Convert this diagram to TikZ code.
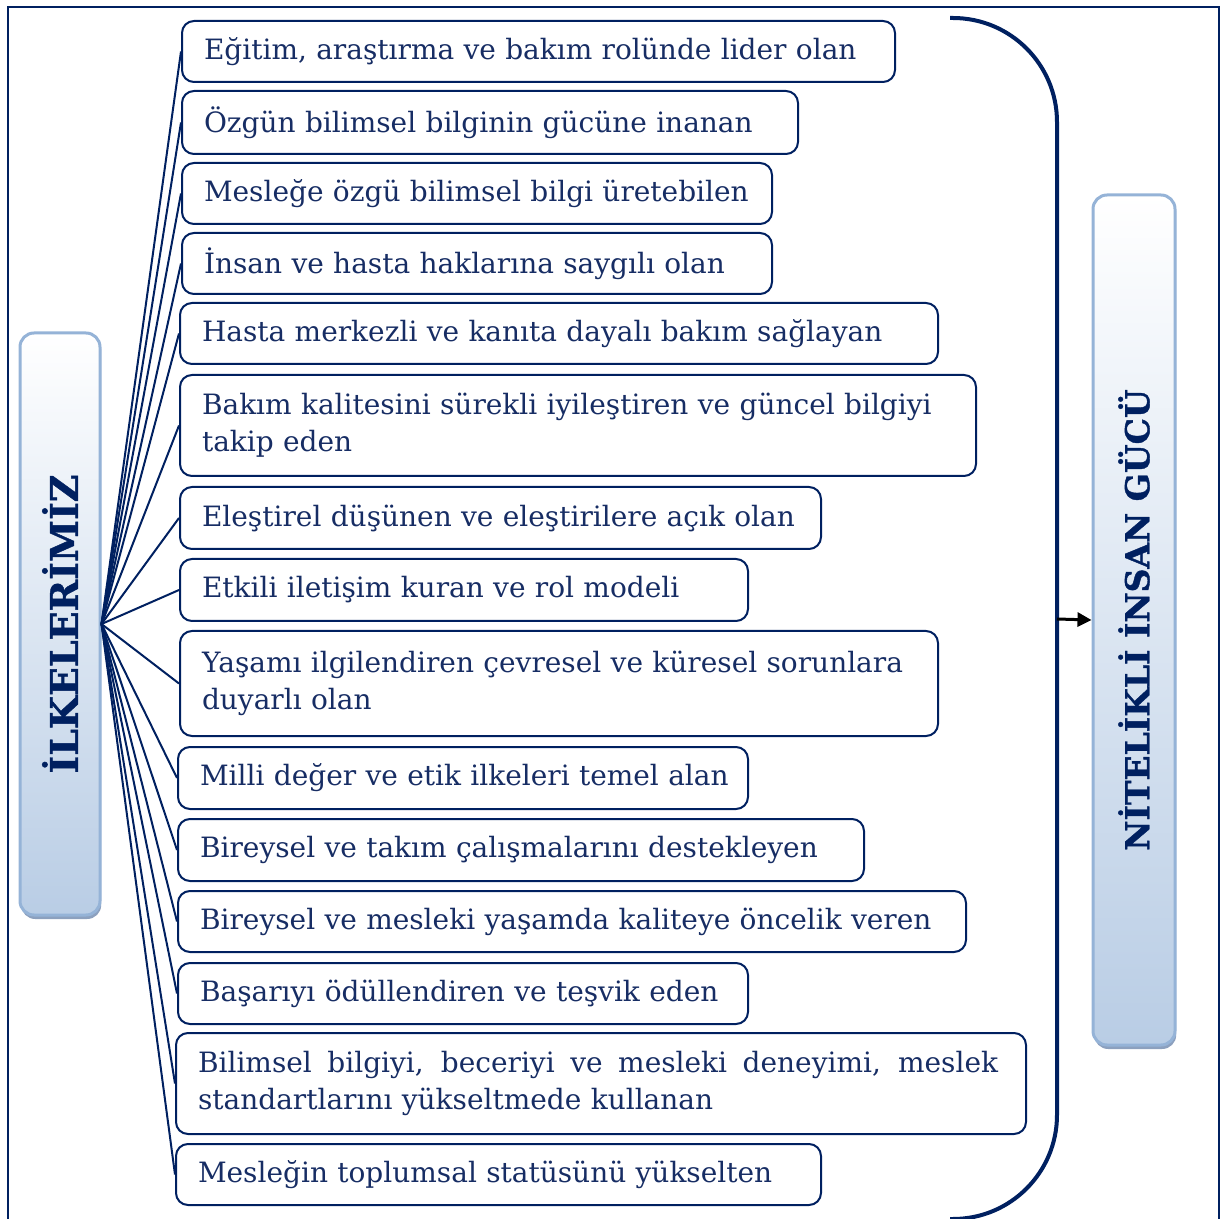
\documentclass[tikz,border=0pt]{standalone}
\usepackage{fontspec}
\setmainfont{DejaVu Serif}
\newfontface\baslikfont{DejaVu Serif Bold}[FakeBold=1.2]
\usetikzlibrary{arrows.meta,shadows}
\definecolor{lacivert}{RGB}{0,32,96}
\definecolor{yazi}{RGB}{23,45,100}
\definecolor{acikmavi}{RGB}{149,179,215}
\definecolor{koyumavi}{RGB}{185,205,229}
\definecolor{golge}{RGB}{140,160,190}
\begin{document}
\begin{tikzpicture}[x=0.5pt,y=-0.5pt,
    ilke/.style={draw=lacivert, line width=1pt, rounded corners=6pt, anchor=north west,
        inner xsep=11pt, inner ysep=0pt, align=left, text=yazi,
        font=\fontsize{14}{18.5}\selectfont},
    baslik/.style={draw=acikmavi, line width=1.5pt, rounded corners=7pt,
        top color=white, bottom color=koyumavi, minimum width=40pt,
        drop shadow={shadow xshift=0.6pt, shadow yshift=-2pt, fill=golge, opacity=1},
        text=lacivert},
    fan/.style={draw=lacivert, line width=1pt}]
\useasboundingbox (0,0) rectangle (1222,1219);
%Frame
\draw [lacivert, line width=1.2pt] (8,1240) -- (8,7) -- (1219,7) -- (1219,1240);
%Bracket
\draw [lacivert, line width=2pt, rounded corners=52pt] (950,18) -- (1057,18) -- (1057,1219) -- (950,1219);
\coordinate (kanca) at (1057,619);

% Title boxes
\node [baslik, minimum height=291pt, font=\fontsize{19}{22}\baslikfont] (ilkeler) at (60,624) {\rotatebox{90}{İLKELERİMİZ}};
\node [baslik, minimum width=41pt, minimum height=425pt, font=\fontsize{16.5}{20}\baslikfont] (nitelik) at (1134,620) {\rotatebox{90}{NİTELİKLİ İNSAN GÜCÜ}};

% Text Nodes
\node [ilke, text width=334.5pt, minimum height=30.5pt] (b1) at (181,20) {Eğitim, araştırma ve bakım rolünde lider olan};
\node [ilke, text width=286pt, minimum height=31.5pt] (b2) at (181,90) {Özgün bilimsel bilginin gücüne inanan};
\node [ilke, text width=273pt, minimum height=30.5pt] (b3) at (181,162) {Mesleğe özgü bilimsel bilgi üretebilen};
\node [ilke, text width=273pt, minimum height=30.5pt] (b4) at (181,232) {İnsan ve hasta haklarına saygılı olan};
\node [ilke, text width=357pt, minimum height=30.5pt] (b5) at (179,302) {Hasta merkezli ve kanıta dayalı bakım sağlayan};
\node [ilke, text width=376pt, minimum height=50.5pt] (b6) at (179,374) {Bakım kalitesini sürekli iyileştiren ve güncel bilgiyi\\takip eden};
\node [ilke, text width=298.5pt, minimum height=31pt] (b7) at (179,486) {Eleştirel düşünen ve eleştirilere açık olan};
\node [ilke, text width=262pt, minimum height=31pt] (b8) at (179,558) {Etkili iletişim kuran ve rol modeli};
\node [ilke, text width=357pt, minimum height=52.5pt] (b9) at (179,630) {Yaşamı ilgilendiren çevresel ve küresel sorunlara\\duyarlı olan};
\node [ilke, text width=263pt, minimum height=31pt] (b10) at (177,746) {\mbox{Milli değer ve etik ilkeleri temel alan}};
\node [ilke, text width=321pt, minimum height=31pt] (b11) at (177,818) {Bireysel ve takım çalışmalarını destekleyen};
\node [ilke, text width=372pt, minimum height=30.5pt] (b12) at (177,890) {Bireysel ve mesleki yaşamda kaliteye öncelik veren};
\node [ilke, text width=263pt, minimum height=30.5pt] (b13) at (177,962) {Başarıyı ödüllendiren ve teşvik eden};
\node [ilke, text width=403pt, minimum height=50.5pt] (b14) at (175,1032) {\makebox[400pt][s]{\spaceskip=.3333em plus 1fil\relax Bilimsel bilgiyi, beceriyi ve mesleki deneyimi, meslek}\\standartlarını yükseltmede kullanan};
\node [ilke, text width=300.5pt, minimum height=30.5pt] (b15) at (175,1143) {Mesleğin toplumsal statüsünü yükselten};

% Fan lines
\foreach \i in {1,...,15}
    \draw [fan] (ilkeler.east) -- (b\i.west);

% Arrow
\draw [-{Triangle[length=7pt,width=7pt]}, line width=1.5pt] (kanca) -- (nitelik.west);
\end{tikzpicture}
\end{document}
